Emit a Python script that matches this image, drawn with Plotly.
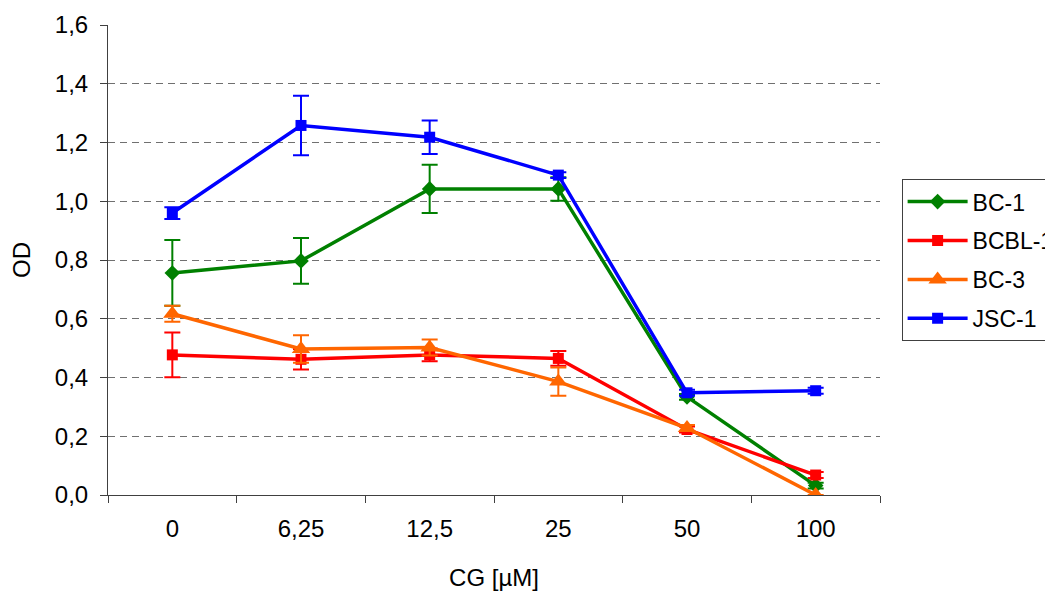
import plotly.graph_objects as go

categories = ["0", "6,25", "12,5", "25", "50", "100"]

bc1 = [0.756, 0.797, 1.042, 1.042, 0.334, 0.032]
bc1_err = [0.112, 0.078, 0.082, 0.040, 0.010, 0.010]

bcbl1 = [0.477, 0.462, 0.477, 0.465, 0.223, 0.068]
bcbl1_err = [0.076, 0.035, 0.022, 0.025, 0.010, 0.010]

bc3 = [0.617, 0.497, 0.502, 0.386, 0.228, 0.000]
bc3_err = [0.027, 0.047, 0.027, 0.048, 0.010, 0.000]

jsc1 = [0.960, 1.258, 1.218, 1.089, 0.348, 0.355]
jsc1_err = [0.020, 0.101, 0.057, 0.010, 0.010, 0.010]

series = [
    ("BC-1", bc1, bc1_err, "#008000", "diamond", 12),
    ("BCBL-1", bcbl1, bcbl1_err, "#FF0000", "square", 11),
    ("BC-3", bc3, bc3_err, "#FF6600", "triangle-up", 16),
    ("JSC-1", jsc1, jsc1_err, "#0000FF", "square", 11),
]

fig = go.Figure()
for name, vals, errs, color, sym, size in series:
    fig.add_trace(go.Scatter(
        x=categories, y=vals, name=name, mode="lines+markers",
        legendgroup=name,
        line=dict(color=color, width=3.5),
        marker=dict(symbol=sym, size=size, color=color),
        error_y=dict(type="data", array=errs, visible=True, color=color,
                     thickness=2, width=8),
    ))

font = dict(family="Liberation Sans, Arial, sans-serif", size=24, color="black")

# page body has an 8px margin, so the figure is sized/positioned to compensate
fig.update_layout(
    width=1053, height=585,
    margin=dict(l=100, r=181, t=17, b=98, autoexpand=False),
    paper_bgcolor="white", plot_bgcolor="white",
    font=font,
    separators=", ",
    showlegend=True,
    legend=dict(
        x=1.028, y=0.672, xanchor="left", yanchor="top",
        bordercolor="#404040", borderwidth=1, bgcolor="white",
        font=dict(family="Liberation Sans, Arial, sans-serif", size=23),
        tracegroupgap=6, itemwidth=60,
    ),
    xaxis=dict(
        type="category", range=[-0.5, 5.5], automargin=False,
        tickson="boundaries", ticks="outside", ticklen=7, tickcolor="#404040",
        ticklabelstandoff=12,
        showline=True, linecolor="#404040", linewidth=1,
        showgrid=False, zeroline=False,
        title=dict(text="CG [µM]", font=font, standoff=28),
    ),
    yaxis=dict(
        range=[0, 1.6], dtick=0.2, tick0=0, tickformat=".1f", automargin=False,
        ticks="outside", ticklen=7, tickcolor="#404040",
        ticklabelstandoff=7,
        showline=True, linecolor="#404040", linewidth=1,
        showgrid=True, gridcolor="#707070", griddash="7px,5px", gridwidth=1,
        zeroline=False,
        title=dict(text="OD", font=font, standoff=21),
    ),
)

fig.write_html("out.html")
